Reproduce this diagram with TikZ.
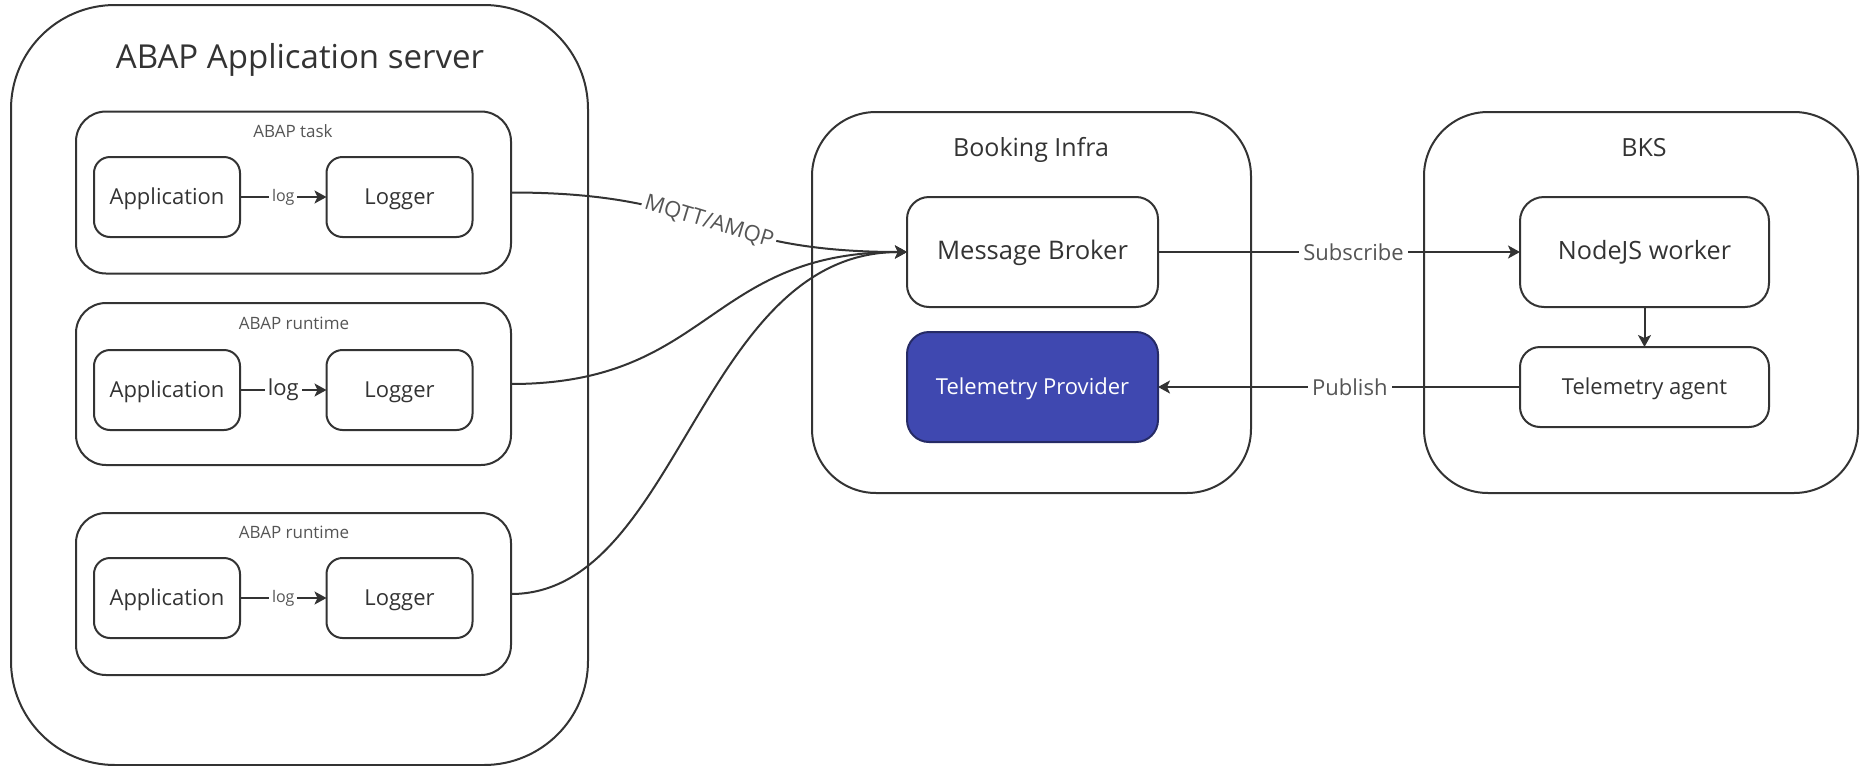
\documentclass[tikz,border=0pt]{standalone}
\usepackage{fontspec}
\setmainfont{Open Sans}
\usetikzlibrary{arrows.meta}
\definecolor{ink}{HTML}{333333}
\definecolor{soft}{HTML}{555555}
\definecolor{telblue}{HTML}{3F48B0}
\definecolor{teledge}{HTML}{262B66}
\newcommand{\fs}[1]{\fontsize{#1}{#1}\selectfont}
\tikzset{
  sz/.style 2 args={minimum width=#1*0.5pt, minimum height=#2*0.5pt},
  box/.style={draw=ink, line width=1pt, rectangle, inner sep=0pt, outer sep=0pt,
    text=ink, text height=1.34ex, text depth=0pt},
  group/.style={box, rounded corners=15pt, sz={435}{162}},
  leaf/.style={box, rounded corners=8pt, sz={146}{80}, font=\fs{11}},
  conn/.style={draw=ink, line width=1pt, -{Stealth[length=6pt,width=6.5pt,inset=1.5pt]}},
  lbl/.style={fill=white, text=soft, inner sep=2pt, font=\fs{11}},
  heading/.style={text=ink, inner sep=0pt, anchor=base},
}
\begin{document}
\begin{tikzpicture}[x=0.5pt, y=-0.5pt]
\useasboundingbox (0,0) rectangle (1860,766);

% ABAP application server
\node[box, rounded corners=52pt, sz={577}{760}] (server) at (299.5,385) {};
\node[heading, font=\fs{16.5}] (servertitle) at (300,68) {ABAP Application server};

% ABAP task
\node[group] (task) at (293.5,192.5) {};
\node[heading, text=soft, font=\fs{8.5}] (tasklbl) at (293,137) {ABAP task};
\node[leaf] (app1) at (167,197) {Application};
\node[leaf] (log1) at (399.5,197) {Logger};
\draw[conn] (app1) -- node[lbl, font=\fs{8}, inner sep=1.5pt] (l1) {log} (log1);

% ABAP runtime 1
\node[group] (rt1) at (293.5,384) {};
\node[heading, text=soft, font=\fs{8.5}] (rt1lbl) at (294,329) {ABAP runtime};
\node[leaf] (app2) at (167,390) {Application};
\node[leaf] (log2) at (399.5,390) {Logger};
\draw[conn] (app2) -- node[lbl, text=ink, inner sep=1.5pt] (l2) {log} (log2);

% ABAP runtime 2
\node[group] (rt2) at (293.5,594) {};
\node[heading, text=soft, font=\fs{8.5}] (rt2lbl) at (294,538) {ABAP runtime};
\node[leaf] (app3) at (167,598) {Application};
\node[leaf] (log3) at (399.5,598) {Logger};
\draw[conn] (app3) -- node[lbl, font=\fs{8}, inner sep=1.5pt] (l3) {log} (log3);

% Booking infrastructure
\node[box, rounded corners=32pt, sz={439}{381}] (infra) at (1031.5,302.5) {};
\node[heading, font=\fs{12.5}] (infralbl) at (1031,156.5) {Booking Infra};
\node[box, rounded corners=11pt, sz={251}{110}, font=\fs{12.8}] (broker) at (1032.5,252) {Message Broker};
\node[box, draw=teledge, fill=telblue, text=white, rounded corners=11pt, sz={251}{110}, font=\fs{11}] (provider) at (1032.5,387) {Telemetry Provider};

% BKS
\node[box, rounded corners=32pt, sz={434}{381}] (bks) at (1641,302.5) {};
\node[heading, font=\fs{12.5}] (bkslbl) at (1644,156.5) {BKS};
\node[box, rounded corners=12pt, sz={249}{110}, font=\fs{12.6}] (worker) at (1644.5,252) {NodeJS worker};
\node[box, rounded corners=10pt, sz={249}{80}, font=\fs{11}] (agent) at (1644.5,387) {Telemetry agent};

% transports into the broker
\draw[conn] (task.east) .. controls +(200,0) and +(-200,0) .. (broker.west)
  node[lbl, midway, sloped, inner sep=1.5pt] (mq) {MQTT/AMQP};
\draw[conn] (rt1.east) .. controls +(200,0) and +(-200,0) .. (broker.west);
\draw[conn] (rt2.east) .. controls +(168,0) and +(-207,0) .. (broker.west);

% broker <-> BKS
\draw[conn] (broker.east) -- node[lbl, pos=0.54] (sub) {Subscribe} (worker.west);
\draw[conn] (worker.south) -- (agent.north);
\draw[conn] (agent.west) -- node[lbl, pos=0.47] (pub) {Publish} (provider.east);
\end{tikzpicture}
\end{document}
